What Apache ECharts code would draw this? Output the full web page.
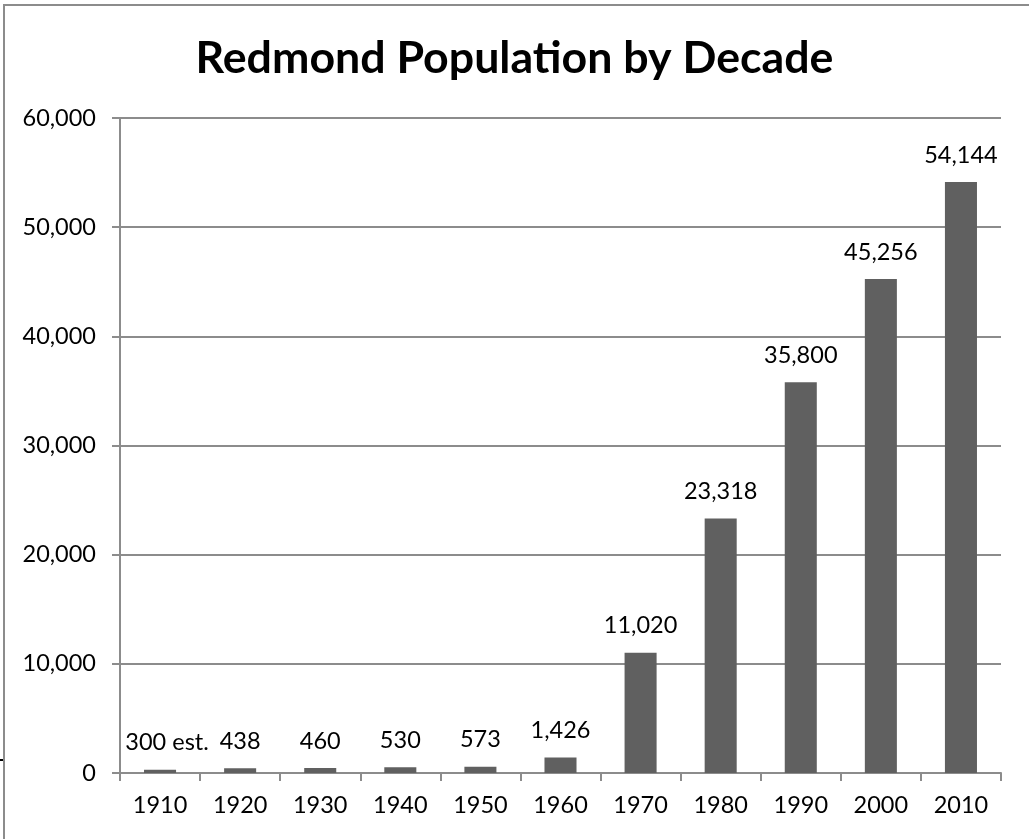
<!DOCTYPE html>
<html>
<head>
<meta charset="utf-8">
<title>Redmond Population by Decade</title>
<script src="https://cdn.jsdelivr.net/npm/echarts@6/dist/echarts.min.js"></script>
<style>
  html, body { margin: 0; padding: 0; background: #ffffff; }
  #chart { width: 1029px; height: 839px; }
</style>
</head>
<body>
<div id="chart"></div>
<script>
// Census decades and Redmond population counts
const decades = ['1910', '1920', '1930', '1940', '1950', '1960', '1970', '1980', '1990', '2000', '2010'];
const population = [300, 438, 460, 530, 573, 1426, 11020, 23318, 35800, 45256, 54144];
// Extra wording appended to a value label (the 1910 figure is an estimate)
const labelNotes = ['est.', '', '', '', '', '', '', '', '', '', ''];
// Value axis ticks
const yTicks = [0, 10000, 20000, 30000, 40000, 50000, 60000];

const FONT = 'Lato';
const AXIS_GRAY = '#8c8c8c';
const fmt = v => Number(v).toLocaleString('en-US');

const chart = echarts.init(document.getElementById('chart'), null, { renderer: 'canvas' });

const barData = population.map((v, i) => {
  const item = { value: v };
  if (i === 0) item.label = { offset: [7, 0] };
  return item;
});

chart.setOption({
  backgroundColor: '#ffffff',
  animation: false,
  title: {
    text: 'Redmond Population by Decade',
    left: 'center',
    top: 31,
    textStyle: { fontFamily: FONT, fontWeight: 'bold', fontSize: 44.7, color: '#000000' }
  },
  grid: { left: 120, right: 28, top: 118, bottom: 66, containLabel: false },
  xAxis: {
    type: 'category',
    data: decades,
    boundaryGap: true,
    axisLine: { show: true, lineStyle: { color: AXIS_GRAY, width: 2 } },
    axisTick: { show: true, length: 8, alignWithLabel: false, lineStyle: { color: AXIS_GRAY, width: 2 } },
    axisLabel: { margin: 20, fontFamily: FONT, fontSize: 23.5, color: '#000000' }
  },
  yAxis: {
    type: 'value',
    min: yTicks[0],
    max: yTicks[yTicks.length - 1],
    interval: yTicks[1] - yTicks[0],
    axisLine: { show: true, lineStyle: { color: AXIS_GRAY, width: 2 } },
    axisTick: { show: true, length: 8, lineStyle: { color: AXIS_GRAY, width: 2 } },
    splitLine: { show: true, lineStyle: { color: AXIS_GRAY, width: 2 } },
    axisLabel: { margin: 24, fontFamily: FONT, fontSize: 23.5, color: '#000000', formatter: v => fmt(v) }
  },
  series: [{
    type: 'bar',
    data: barData,
    barWidth: '40%',
    itemStyle: { color: '#606060' },
    label: {
      show: true,
      position: 'top',
      distance: 15,
      fontFamily: FONT,
      fontSize: 23.5,
      color: '#000000',
      formatter: p => {
        const note = labelNotes[p.dataIndex];
        return note ? fmt(p.value) + ' ' + note : fmt(p.value);
      }
    }
  }],
  graphic: [
    {
      type: 'rect',
      silent: true,
      shape: { x: 4, y: 5, width: 1200, height: 1000 },
      style: { fill: 'none', stroke: AXIS_GRAY, lineWidth: 2 }
    },
    {
      type: 'line',
      silent: true,
      shape: { x1: 0, y1: 760, x2: 3, y2: 760 },
      style: { stroke: '#000000', lineWidth: 2 }
    }
  ]
});
</script>
</body>
</html>
